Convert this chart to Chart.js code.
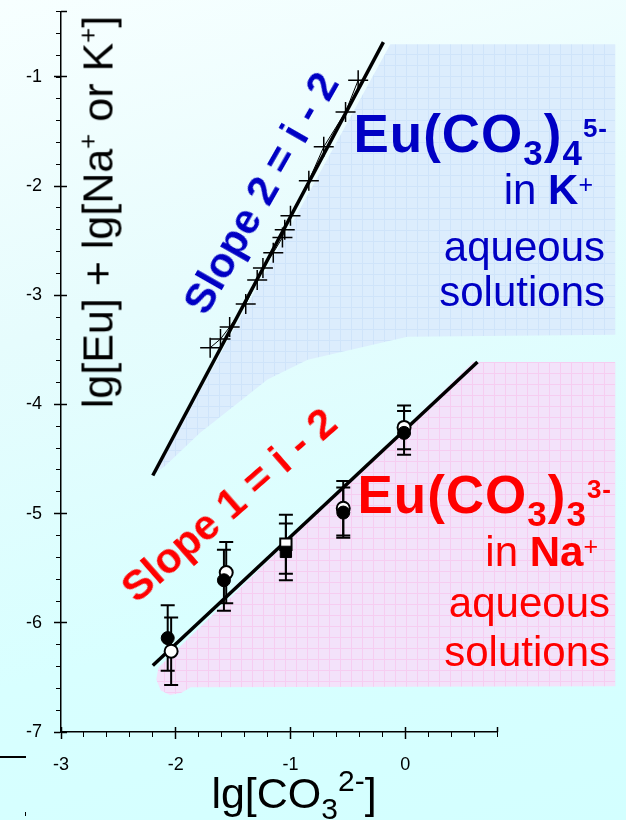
<!DOCTYPE html>
<html>
<head>
<meta charset="utf-8">
<script src="https://cdn.jsdelivr.net/npm/chart.js@4.4.0/dist/chart.umd.min.js"></script>
<style>
html, body { margin: 0; padding: 0; }
body {
    width: 626px; height: 820px; overflow: hidden; position: relative;
    background: linear-gradient(165deg, #f7ffff 0%, #e6fcfd 35%, #d8ffff 70%, #d3ffff 100%);
    font-family: "Liberation Sans", Arial, sans-serif;
}
#chart { position: absolute; left: 0; top: 0; }
.t { position: absolute; white-space: nowrap; line-height: 1; }
.blue { color: #0000c4; }
.red { color: #ff0000; }
.up, .dn { position: relative; line-height: 0; }
.big { font-size: 53px; font-weight: bold; letter-spacing: 1px; }
</style>
</head>
<body>
<canvas id="chart" width="626" height="820"></canvas>

<!-- annotations -->
<div class="t blue big" style="right:18px;top:107px;">Eu(CO<span class="dn" style="font-size:35px;top:13px">3</span>)<span class="dn" style="font-size:35px;top:13px">4</span><span class="up" style="font-size:26px;top:-15px">5-</span></div>
<div class="t blue" style="right:33px;top:169px;font-size:42px;">in <b>K</b><span class="up" style="font-size:25px;top:-11px">+</span></div>
<div class="t blue" style="right:21px;top:226px;font-size:42px;">aqueous</div>
<div class="t blue" style="right:21px;top:271px;font-size:42px;">solutions</div>

<div class="t red big" style="right:14px;top:468px;">Eu(CO<span class="dn" style="font-size:35px;top:13px">3</span>)<span class="dn" style="font-size:35px;top:13px">3</span><span class="up" style="font-size:26px;top:-15px">3-</span></div>
<div class="t red" style="right:28px;top:531px;font-size:42px;">in <b>Na</b><span class="up" style="font-size:25px;top:-11px">+</span></div>
<div class="t red" style="right:16px;top:582px;font-size:42px;">aqueous</div>
<div class="t red" style="right:16px;top:631px;font-size:42px;">solutions</div>

<div class="t blue" style="left:261px;top:193px;font-size:42px;font-weight:bold;transform:translate(-50%,-50%) rotate(-60.3deg);">Slope 2 = i - 2</div>
<div class="t red" style="left:229px;top:505px;font-size:42px;font-weight:bold;transform:translate(-50%,-50%) rotate(-41.2deg);">Slope 1 = i - 2</div>

<div class="t" style="left:98px;top:212px;font-size:43px;color:#000;transform:translate(-50%,-50%) rotate(-90deg);">lg[Eu] + lg[Na<span class="up" style="font-size:26px;top:-16px">+</span> or K<span class="up" style="font-size:26px;top:-16px">+</span>]</div>
<div class="t" style="left:294px;top:772px;font-size:43px;color:#000;transform:translateX(-50%);">lg[CO<span class="dn" style="font-size:30px;top:11px">3</span><span class="up" style="font-size:30px;top:-17px">2-</span>]</div>

<div style="position:absolute;left:0;top:756px;width:26px;height:2px;background:#000;"></div>
<div style="position:absolute;left:25px;top:812px;width:1px;height:4px;background:#000;"></div>

<script>
// K+ solutions, lg[CO3] vs lg[Eu]+lg[K]
const kX = [-1.70, -1.61, -1.53, -1.39, -1.29, -1.24, -1.15, -1.07, -1.05, -1.00, -0.84, -0.71, -0.52, -0.41];
const kY = [-3.48, -3.40, -3.29, -3.08, -2.86, -2.75, -2.61, -2.47, -2.40, -2.27, -1.95, -1.64, -1.32, -1.03];

// Na+ solutions
const naCircleX = [-2.07, -1.58, -0.54, -0.01];
const naCircleY = [-6.14, -5.61, -4.99, -4.26];
const naCircleErr = [0.30, 0.28, 0.23, 0.20];

const naOpenX = [-2.04, -1.56, -0.54, -0.01];
const naOpenY = [-6.26, -5.54, -4.95, -4.21];
const naOpenErr = [0.31, 0.28, 0.25, 0.20];

const naSquareX = [-1.04];
const naSquareY = [-5.35];
const naSquareErr = [0.26];

const naOpenSquareX = [-1.04];
const naOpenSquareY = [-5.28];
const naOpenSquareErr = [0.27];

// fitted lines
const fit1X = [-2.2, 0.63];
const fit1Y = [-6.39, -3.61];
const fit2X = [-2.2, -0.19];
const fit2Y = [-4.65, -0.68];

// shaded domains
const blueRegionX = [-2.18, -0.13, 1.83, 1.83, 0.02, -0.85, -1.20, -1.50, -1.79, -2.09];
const blueRegionY = [-4.63, -0.70, -0.70, -3.36, -3.38, -3.59, -3.77, -4.02, -4.26, -4.56];
const pinkRegionX = [-2.15, 0.59, 1.83, 1.83, -1.87, -1.95, -2.05, -2.13, -2.17];
const pinkRegionY = [-6.41, -3.61, -3.61, -6.58, -6.59, -6.64, -6.66, -6.62, -6.52];

const pts = (xs, ys) => xs.map((v, i) => ({x: v, y: ys[i]}));

function makePattern(base, line) {
    const c = document.createElement('canvas');
    c.width = 11; c.height = 11;
    const g = c.getContext('2d');
    g.fillStyle = base;
    g.fillRect(0, 0, 11, 11);
    g.fillStyle = line;
    g.fillRect(10, 0, 1, 11);
    g.fillRect(0, 10, 11, 1);
    return g.createPattern(c, 'repeat');
}

const regions = [
    {xs: blueRegionX, ys: blueRegionY, base: '#dcedfd', line: '#cfe4fa'},
    {xs: pinkRegionX, ys: pinkRegionY, base: '#f3e2fa', line: '#f6cdf1'}
];

const regionPlugin = {
    id: 'regions',
    beforeDatasetsDraw(chart) {
        const ctx = chart.ctx;
        const x = chart.scales.x, y = chart.scales.y;
        regions.forEach(r => {
            ctx.save();
            ctx.beginPath();
            r.xs.forEach((v, i) => {
                const px = x.getPixelForValue(v), py = y.getPixelForValue(r.ys[i]);
                if (i) ctx.lineTo(px, py); else ctx.moveTo(px, py);
            });
            ctx.closePath();
            ctx.fillStyle = makePattern(r.base, r.line);
            ctx.fill();
            ctx.restore();
        });
    }
};

function errorBars(xs, ys, errs) {
    return xs.map((v, i) => ({
        data: [{x: v, y: ys[i] - errs[i]}, {x: v, y: ys[i] + errs[i]}],
        showLine: true,
        borderColor: '#000',
        borderWidth: 2,
        pointStyle: 'line',
        pointRadius: 7,
        pointBorderWidth: 2,
        pointBorderColor: '#000',
        order: 5
    }));
}

const datasets = [
    {data: pts(fit1X, fit1Y), showLine: true, borderColor: '#000', borderWidth: 3.5, pointRadius: 0, order: 8},
    {data: pts(fit2X, fit2Y), showLine: true, borderColor: '#000', borderWidth: 3.5, pointRadius: 0, order: 8},
    {data: pts(kX, kY), showLine: true, borderColor: '#000', borderWidth: 1,
     pointStyle: 'cross', pointRadius: 10, pointBorderWidth: 1.5, pointBorderColor: '#000', order: 4},
    ...errorBars(naOpenX, naOpenY, naOpenErr),
    ...errorBars(naCircleX, naCircleY, naCircleErr),
    ...errorBars(naOpenSquareX, naOpenSquareY, naOpenSquareErr),
    ...errorBars(naSquareX, naSquareY, naSquareErr),
    {data: pts(naOpenX, naOpenY), pointStyle: 'circle', pointRadius: 6.5, pointBackgroundColor: '#fff',
     pointBorderColor: '#000', pointBorderWidth: 2, order: 3},
    {data: pts(naOpenSquareX, naOpenSquareY), pointStyle: 'rect', pointRadius: 8, pointBackgroundColor: '#fff',
     pointBorderColor: '#000', pointBorderWidth: 2, order: 3},
    {data: pts(naCircleX, naCircleY), pointStyle: 'circle', pointRadius: 6.5, pointBackgroundColor: '#000',
     pointBorderColor: '#000', pointBorderWidth: 1, order: 2},
    {data: pts(naSquareX, naSquareY), pointStyle: 'rect', pointRadius: 8, pointBackgroundColor: '#000',
     pointBorderColor: '#000', pointBorderWidth: 1, order: 2}
];

const tickFont = {family: '"Liberation Sans", Arial', size: 18};
const noPadX = s => { s.paddingLeft = 0; s.paddingRight = 0; };
const noPadY = s => { s.paddingTop = 0; s.paddingBottom = 0; };

// one extra axis per direction for the minor ticks, one for the inward half of the major ticks
function markAxis(pos, step, len, isX) {
    return {
        type: 'linear', position: pos, weight: 0,
        min: isX ? -3 : -7, max: isX ? 0.8 : -0.4,
        afterFit: s => { if (isX) { s.height = 0; noPadX(s); } else { s.width = 0; noPadY(s); } },
        ticks: {stepSize: step, display: false},
        grid: {drawOnChartArea: false, tickLength: len, tickColor: '#000', tickWidth: step < 1 ? 1 : 1.5},
        border: {display: false}
    };
}

new Chart(document.getElementById('chart'), {
    type: 'scatter',
    data: {datasets: datasets},
    plugins: [regionPlugin],
    options: {
        responsive: false,
        animation: false,
        devicePixelRatio: 1,
        layout: {padding: {left: 0, top: 8, right: 129, bottom: 0}},
        plugins: {legend: {display: false}, tooltip: {enabled: false}},
        scales: {
            x: {
                type: 'linear', position: 'bottom', min: -3, max: 0.8, weight: 1,
                afterFit: s => { s.height = 88; noPadX(s); },
                ticks: {stepSize: 1, includeBounds: false, color: '#000', padding: 15, maxRotation: 0, font: tickFont},
                grid: {drawOnChartArea: false, tickLength: 7, tickColor: '#000', tickWidth: 1.5},
                border: {color: '#000', width: 1.5}
            },
            xMinor: markAxis('bottom', 0.2, 5, true),
            xIn: markAxis('bottom', 1, -5, true),
            y: {
                type: 'linear', position: 'left', min: -7, max: -0.4, weight: 1,
                afterFit: s => { s.width = 61; noPadY(s); },
                ticks: {stepSize: 1, includeBounds: false, color: '#000', padding: 12, font: tickFont},
                grid: {drawOnChartArea: false, tickLength: 7, tickColor: '#000', tickWidth: 1.5},
                border: {color: '#000', width: 1.5}
            },
            yMinor: markAxis('left', 0.2, 5, false),
            yIn: markAxis('left', 1, -6, false)
        }
    }
});
</script>
</body>
</html>
